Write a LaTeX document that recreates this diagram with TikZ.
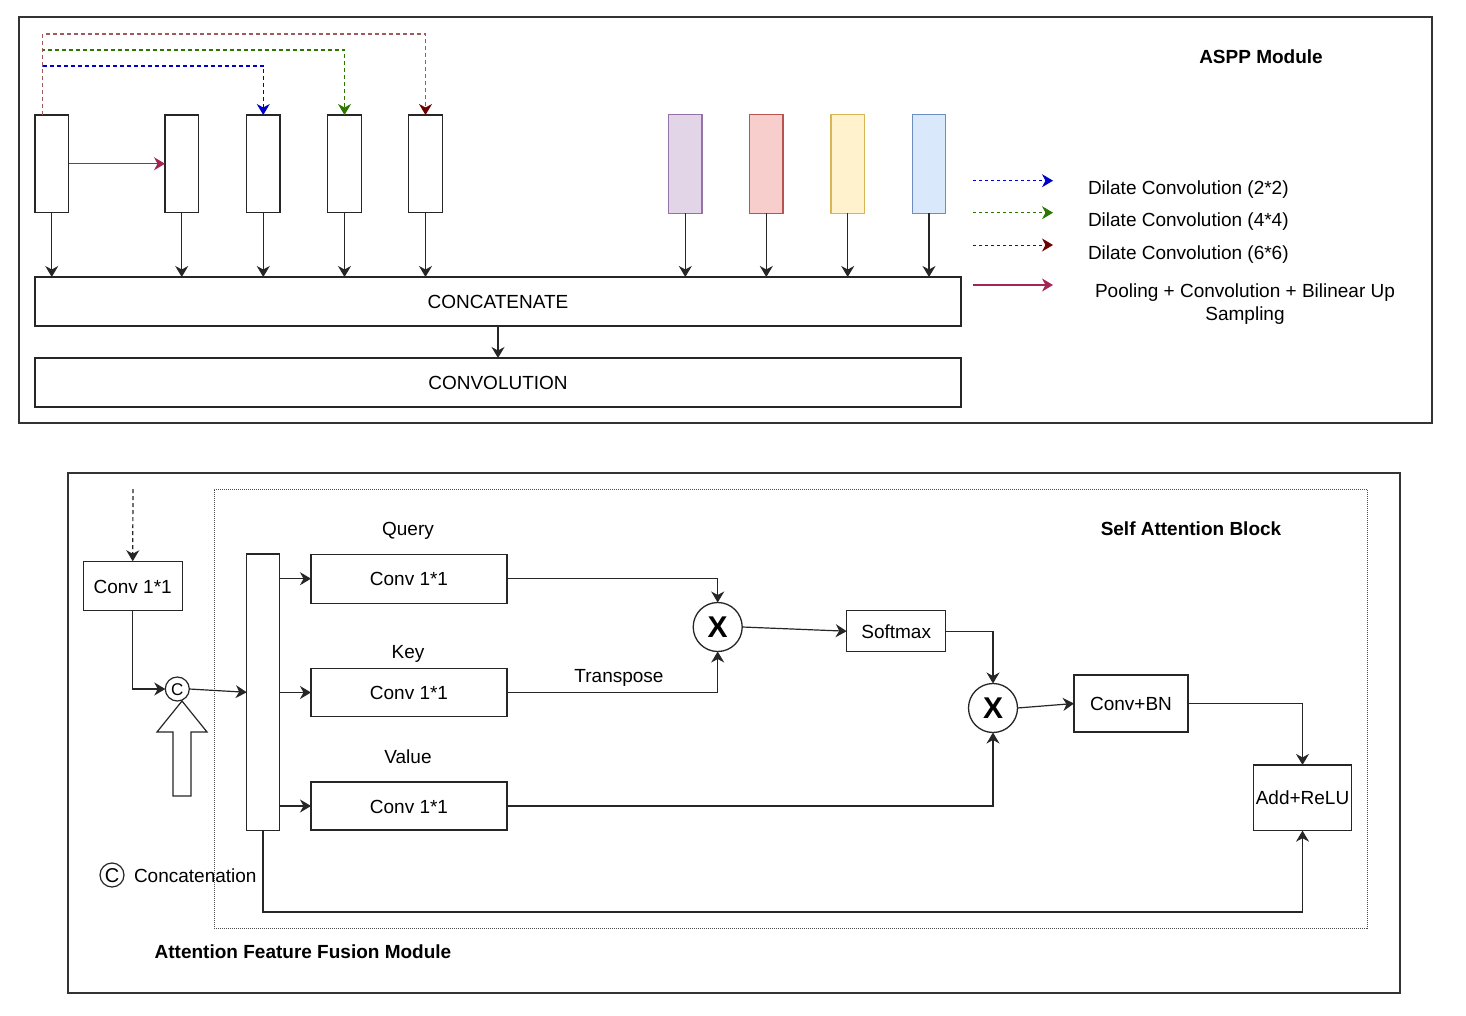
\documentclass[tikz,border=0pt]{standalone}
\usepackage{fontspec}
\setmainfont{Liberation Sans}
\usetikzlibrary{arrows.meta,calc}
\definecolor{dblue}{RGB}{0,0,204}
\definecolor{dgreen}{RGB}{45,118,0}
\definecolor{dred}{RGB}{111,0,0}
\definecolor{brn}{RGB}{160,90,90}
\definecolor{crim}{RGB}{165,35,85}
\definecolor{pfill}{HTML}{E1D5E7}\definecolor{pline}{HTML}{9673A6}
\definecolor{rfill}{HTML}{F8CECC}\definecolor{rline}{HTML}{B85450}
\definecolor{yfill}{HTML}{FFF2CC}\definecolor{yline}{HTML}{D6B656}
\definecolor{bfill}{HTML}{DAE8FC}\definecolor{bline}{HTML}{6C8EBF}
\begin{document}
\begin{tikzpicture}[x=1pt,y=-1pt,
  every node/.style={font=\fontsize{19}{23}\selectfont, inner sep=0pt, outer sep=0pt, text height=17pt, text depth=3pt},
  frame/.style={draw=black!80, line width=1.3pt},
  innerframe/.style={draw=black!70, line width=0.8pt, dash pattern=on 1pt off 1pt},
  box/.style={draw=black!85, line width=1.4pt, fill=white},
  bar/.style={box, minimum width=33.5pt, minimum height=97.5pt},
  cbar/.style={line width=1.4pt, minimum width=33.5pt, minimum height=98.5pt},
  tip/.style={-{Stealth[length=11pt,width=13pt,inset=3.5pt]}},
  arr/.style={tip, line width=1.2pt, draw=black!85},
  dsh/.style={tip, line width=1.1pt, dash pattern=on 4pt off 3pt},
  ldsh/.style={tip, line width=0.8pt, dash pattern=on 3pt off 3pt},
  mul/.style={circle, draw=black!85, line width=1.3pt, minimum size=49pt, fill=white, font=\fontsize{30}{30}\selectfont\bfseries, text height=21pt, text depth=0pt},
  bold/.style={font=\fontsize{19}{23}\selectfont\bfseries}
]
\fill[white] (0,0) rectangle (1466,1016);
\useasboundingbox (0,0) rectangle (1466,1016);

%================ ASPP =================
\node[frame, minimum width=1413pt, minimum height=406pt] (aspp) at (725.5,220) {};
\node[bold] (asppt) at (1261,57) {ASPP Module};

\node[bar] (b1) at (51.75,163.75) {};
\node[bar] (b2) at (181.75,163.75) {};
\node[bar] (b3) at (263.25,163.75) {};
\node[bar] (b4) at (344.5,163.75) {};
\node[bar] (b5) at (425.5,163.75) {};

\node[cbar, draw=pline, fill=pfill] (p1) at (685.3,164) {};
\node[cbar, draw=rline, fill=rfill] (p2) at (766.3,164) {};
\node[cbar, draw=yline, fill=yfill] (p3) at (847.7,164) {};
\node[cbar, draw=bline, fill=bfill] (p4) at (929,164) {};

\node[box, minimum width=926pt, minimum height=49pt] (cat) at (498,301.5) {CONCATENATE};
\node[box, minimum width=926pt, minimum height=49pt] (conv) at (498,382.5) {CONVOLUTION};

% dilated connections
\coordinate (blu) at (263.25,66);
\coordinate (gru) at (344.5,50);
\coordinate (rdu) at (425.5,34);
\draw[dsh, draw=dblue] ([xshift=-9pt]b1.north) |- (blu) -- (b3.north);
\draw[dsh, draw=dgreen] ([xshift=-9pt]b1.north) |- (gru) -- (b4.north);
\draw[-{Stealth[length=11pt,width=13pt,inset=3.5pt,color=dred]}, line width=1.1pt, dash pattern=on 4pt off 3pt, draw=brn] ([xshift=-9pt]b1.north) |- (rdu) -- (b5.north);

\draw[tip, line width=1.4pt, draw=crim] (b1.east) -- (b2.west);

\foreach \n in {b1,b2,b3,b4,b5,p1,p2,p3,p4}{
  \draw[arr] (\n.south) -- (\n.south |- cat.north);
}
\draw[arr] (cat.south) -- (conv.north);

% legend
\coordinate (l1a) at (973,180.7); \coordinate (l1b) at (1053,180.7);
\coordinate (l2a) at (973,212.7); \coordinate (l2b) at (1053,212.7);
\coordinate (l3a) at (973,245);   \coordinate (l3b) at (1053,245);
\coordinate (l4a) at (973,285);   \coordinate (l4b) at (1053,285);
\draw[ldsh, draw=dblue] (l1a) -- (l1b);
\draw[ldsh, draw=dgreen] (l2a) -- (l2b);
\draw[ldsh, draw=dred] (l3a) -- (l3b);
\draw[tip, line width=1.2pt, draw=crim] (l4a) -- (l4b);
\node[anchor=west] (t1) at (1088,188) {Dilate Convolution (2*2)};
\node[anchor=west] (t2) at (1088,220) {Dilate Convolution (4*4)};
\node[anchor=west] (t3) at (1088,252) {Dilate Convolution (6*6)};
\node[align=center, text height=, text depth=] (t4) at (1245,304) {Pooling + Convolution + Bilinear Up\\Sampling};

%================ Attention =================
\node[frame, minimum width=1332pt, minimum height=520pt] (aff) at (734,733) {};
\node[innerframe, minimum width=1153pt, minimum height=439pt] (sab) at (790.5,708.5) {};
\node[bold] (afft) at (303,951) {Attention Feature Fusion Module};
\node[bold] (sabt) at (1191,528) {Self Attention Block};

\node[box, minimum width=99pt, minimum height=49.5pt] (c1) at (132.7,586) {Conv 1*1};
\coordinate (in) at (133,489);
\draw[arr, dash pattern=on 4pt off 3pt] (in) -- (c1.north);

\node[circle, draw=black!85, line width=1.2pt, minimum size=24pt, font=\fontsize{17}{17}\selectfont, text height=12pt, text depth=0pt] (cc) at (177.3,689) {C};
\draw[arr] (c1.south) |- (cc.west);

% hollow block arrow
\draw[draw=black!85, line width=1.2pt, fill=white]
  (173,796) -- (173,732) -- (157,732) -- (182,701) -- (207,732) -- (191,732) -- (191,796) -- cycle;

\node[box, minimum width=32.6pt, minimum height=276.7pt] (tb) at (263,692.3) {};
\draw[arr] (cc.east) -- (tb.west);

\node[box, minimum width=196pt, minimum height=49pt] (q) at (409,578.7) {Conv 1*1};
\node[box, minimum width=196pt, minimum height=48.4pt] (k) at (409,692.5) {Conv 1*1};
\node[box, minimum width=196pt, minimum height=48.3pt] (v) at (409,806) {Conv 1*1};
\node (ql) at (408,528) {Query};
\node (kl) at (408,651) {Key};
\node (vl) at (408,756) {Value};

\draw[arr] (tb.east |- q.west) -- (q.west);
\draw[arr] (tb.east |- k.west) -- (k.west);
\draw[arr] (tb.east |- v.west) -- (v.west);

\node[mul] (m1) at (717.7,627) {X};
\node[box, minimum width=99pt, minimum height=41pt] (sm) at (896.2,631.2) {Softmax};
\node[mul] (m2) at (993,708) {X};
\node[box, minimum width=114pt, minimum height=57pt] (cb) at (1131,703.5) {Conv+BN};
\node[box, minimum width=98.4pt, minimum height=65.7pt] (ar) at (1302.5,797.8) {Add+ReLU};

\draw[arr] (q.east) -| (m1.north);
\draw[arr] (k.east) -| (m1.south);
\node (tp) at (619,675) {Transpose};
\draw[arr] (m1.east) -- (sm.west);
\draw[arr] (sm.east) -| (m2.north);
\draw[arr] (v.east) -| (m2.south);
\draw[arr] (m2.east) -- (cb.west);
\draw[arr] (cb.east) -| (ar.north);
\coordinate (bot) at (1302.5,912);
\draw[arr] (tb.south) |- (bot) -- (ar.south);

% legend for concatenation
\node[circle, draw=black!85, line width=1.2pt, minimum size=24pt, font=\fontsize{20}{20}\selectfont, text height=14pt, text depth=0pt] (lc) at (112,875) {C};
\node[anchor=west] (lct) at (134,875) {Concatenation};
\end{tikzpicture}
\end{document}
